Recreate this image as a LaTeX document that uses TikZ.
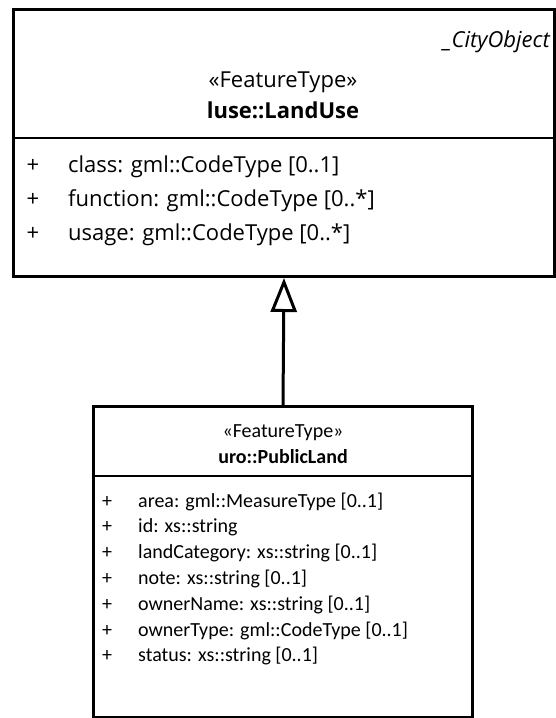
\documentclass[tikz,border=0pt]{standalone}
\usepackage{fontspec}
\setmainfont{Open Sans}
\newfontfamily\calfont{Carlito}
\usetikzlibrary{arrows.meta}
\begin{document}
\begin{tikzpicture}[x=1pt,y=-1pt,
  umlbox/.style={draw, line width=3pt, inner sep=0pt, anchor=north west},
  divline/.style={line width=2.5pt},
  toptext/.style={font=\fontsize{22}{26}\selectfont, inner sep=0pt},
  bottext/.style={font=\calfont\fontsize{20}{24}\selectfont, inner sep=0pt},
  gen/.style={line width=3pt, -{Triangle[open, width=26pt, length=34pt, line width=3pt]}}
]
\useasboundingbox (0,0) rectangle (555,718);
% top class
\node[umlbox, minimum width=541pt, minimum height=267pt] (landuse) at (12,8) {};
\coordinate (d1) at (0,138);
\draw[divline] (landuse.west |- d1) -- (landuse.east |- d1);
\node[toptext, font=\fontsize{22}{26}\selectfont\itshape, anchor=base east] (lsup) at (550,47) {\_CityObject};
\node[toptext, anchor=base] (lst) at (283,87) {«FeatureType»};
\node[toptext, font=\fontsize{22}{26}\selectfont\bfseries, anchor=base] (lname) at (283,118) {luse::LandUse};
\foreach \y/\t [count=\i] in {172/{class: gml::CodeType [0..1]},206/{function: gml::CodeType [0..*]},240/{usage: gml::CodeType [0..*]}}{
  \node[toptext, anchor=base] (lp\i) at (33,\y) {+};
  \node[toptext, anchor=base west] (la\i) at (68,\y) {\t};
}
% bottom class
\node[umlbox, minimum width=379pt, minimum height=311pt] (publand) at (92,405) {};
\coordinate (d2) at (0,476);
\draw[divline] (publand.west |- d2) -- (publand.east |- d2);
\node[bottext, anchor=base] (pst) at (283,437) {«FeatureType»};
\node[bottext, font=\calfont\fontsize{20}{24}\selectfont\bfseries, anchor=base] (pname) at (283,463) {uro::PublicLand};
\foreach \y/\t [count=\i] in {507/{area: gml::MeasureType [0..1]},532.8/{id: xs::string},558.6/{landCategory: xs::string [0..1]},584.4/{note: xs::string [0..1]},610.2/{ownerName: xs::string [0..1]},636/{ownerType: gml::CodeType [0..1]},661.8/{status: xs::string [0..1]}}{
  \node[bottext, anchor=base] (pp\i) at (107,\y) {+};
  \node[bottext, anchor=base west] (pa\i) at (138,\y) {\t};
}
% generalization
\draw[gen] (publand.north) -- (landuse.south);
\end{tikzpicture}
\end{document}
